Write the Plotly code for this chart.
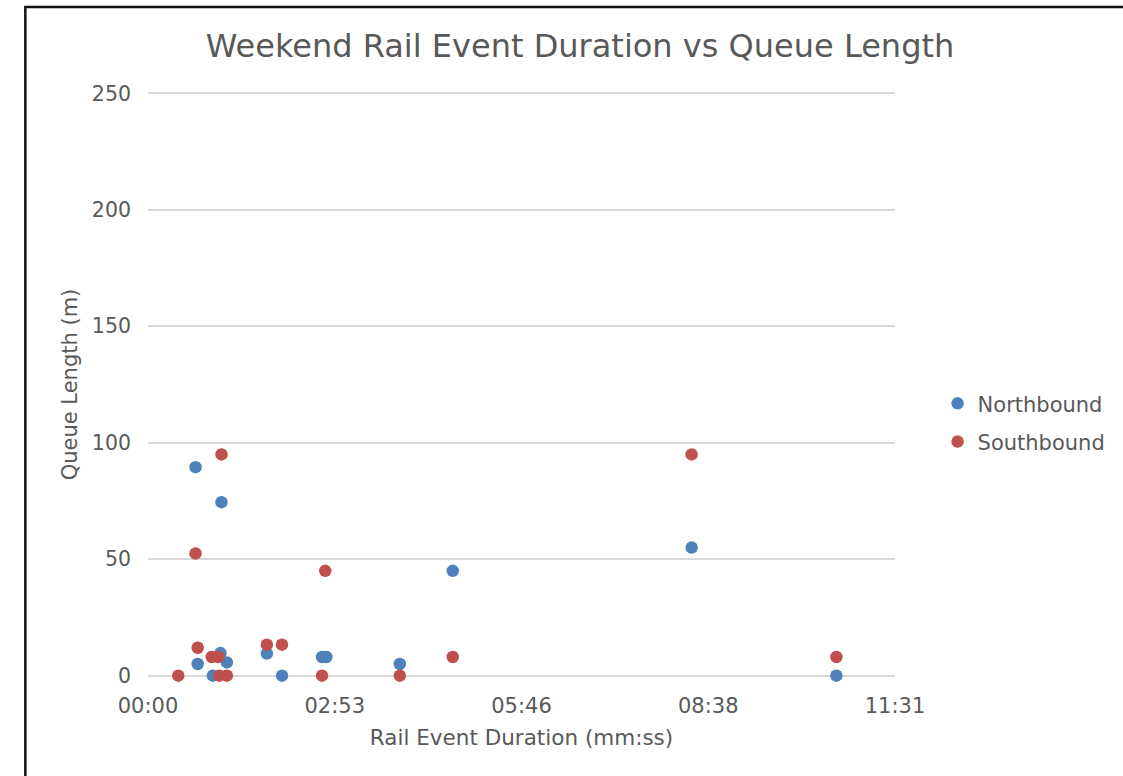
import plotly.graph_objects as go

# Rail event durations (mm:ss) and queue lengths (m) by direction
north_duration = ["00:44", "01:08", "00:46", "01:07", "01:13", "01:00", "01:50",
                  "02:04", "02:41", "02:45", "03:53", "04:42", "08:23", "10:37"]
north_queue = [89.5, 74.5, 5, 9.7, 5.7, 0, 9.5, 0, 8, 8, 5, 45, 55, 0]

south_duration = ["00:28", "00:44", "01:08", "00:46", "00:59", "01:05", "01:06",
                  "01:13", "01:50", "02:04", "02:41", "02:44", "03:53", "04:42",
                  "08:23", "10:37"]
south_queue = [0, 52.5, 95, 12, 8, 8, 0, 0, 13.3, 13.3, 0, 45, 0, 8, 95, 8]

x_tick_labels = ["00:00", "02:53", "05:46", "08:38", "11:31"]
y_tick_values = [0, 50, 100, 150, 200, 250]


def to_seconds(mmss):
    m, s = mmss.split(":")
    return int(m) * 60 + int(s)


# Excel-style time axis: ticks every 0.002 day (172.8 s)
x_tick_vals = [i * 172.8 for i in range(len(x_tick_labels))]

FONT = "DejaVu Sans"
TEXT = "#595959"
GRID = "#D9D9D9"

fig = go.Figure()
fig.add_trace(go.Scatter(
    x=[to_seconds(d) for d in north_duration], y=north_queue,
    mode="markers", name="Northbound", legendgroup="n", cliponaxis=False,
    marker=dict(color="#4F81BD", size=12.5, line=dict(width=0)),
))
fig.add_trace(go.Scatter(
    x=[to_seconds(d) for d in south_duration], y=south_queue,
    mode="markers", name="Southbound", legendgroup="s", cliponaxis=False,
    marker=dict(color="#C0504D", size=12.5, line=dict(width=0)),
))

fig.update_layout(
    width=1123, height=776,
    margin=dict(l=148, r=226, t=91, b=98),
    paper_bgcolor="white", plot_bgcolor="white",
    font=dict(family=FONT, color=TEXT, size=21),
    title=dict(text="Weekend Rail Event Duration vs Queue Length",
               x=580 / 1123, xanchor="center", xref="container",
               y=1 - 46 / 776, yanchor="middle", yref="container",
               font=dict(family=FONT, size=32, color=TEXT)),
    xaxis=dict(range=[0, 691.2], tickvals=x_tick_vals, ticktext=x_tick_labels,
               showgrid=False, zeroline=False, showline=False,
               ticklabelstandoff=13,
               tickfont=dict(size=21, color=TEXT),
               title=dict(text="Rail Event Duration (mm:ss)", standoff=12,
                          font=dict(size=21.5, color=TEXT))),
    yaxis=dict(range=[-1, 251], tickvals=y_tick_values,
               showgrid=True, gridcolor=GRID, gridwidth=1.5,
               zeroline=False, showline=False, ticklabelstandoff=16,
               tickfont=dict(size=20.5, color=TEXT),
               title=dict(text="Queue Length (m)", standoff=8,
                          font=dict(size=21, color=TEXT))),
    legend=dict(x=1.057, y=0.435, xanchor="left", yanchor="middle",
                font=dict(size=21, color=TEXT), itemwidth=30,
                traceorder="grouped", tracegroupgap=8),
    showlegend=True,
)

# Chart frame (plot area spans 91..678 px vertically, 148..897 horizontally)
fig.add_shape(type="rect", xref="paper", yref="paper",
              x0=(25 - 148) / 749, x1=2.0, y0=-2.0, y1=(678 - 7) / 587,
              line=dict(color="#111111", width=2.5), layer="below")

fig.write_html("out.html")
